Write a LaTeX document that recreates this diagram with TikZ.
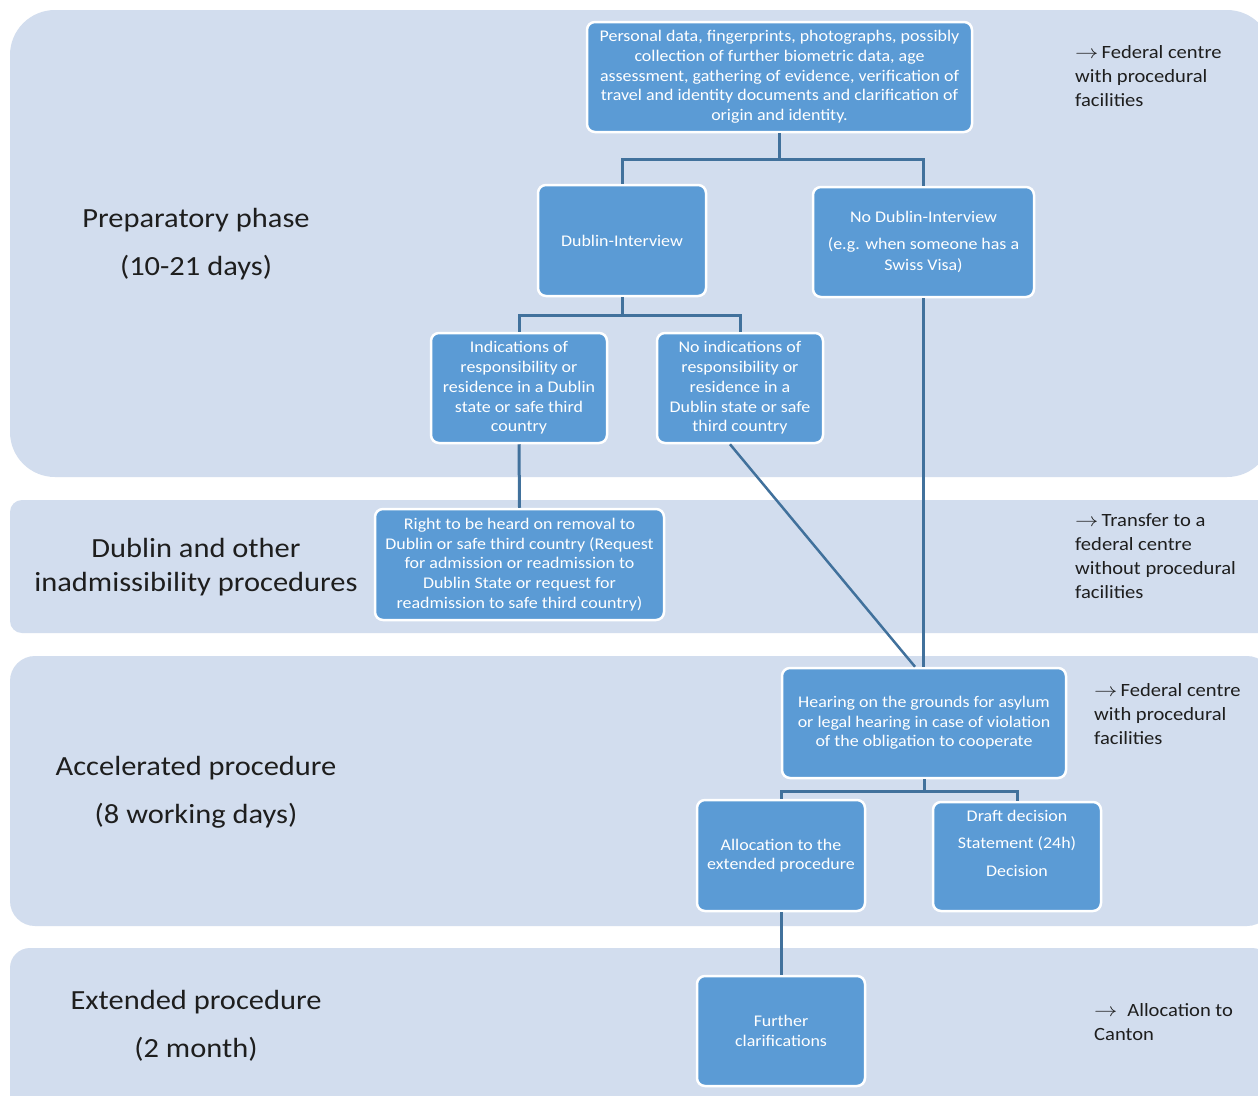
\documentclass[tikz,border=0pt]{standalone}
\usepackage{fontspec}
\usepackage{graphicx}
\setmainfont{Carlito}[FakeStretch=1.1]
\newfontfamily\wfont{Carlito}[FakeStretch=1.1]
\definecolor{bandc}{HTML}{D2DDEE}
\definecolor{boxc}{HTML}{5B9BD5}
\definecolor{linec}{HTML}{41719C}
\definecolor{txtc}{HTML}{1E1E1E}
\newcommand{\myarr}{\scalebox{1.35}[1.1]{$\rightarrow$}}
\tikzset{
  band/.style={fill=bandc, draw=none},
  stagebox/.style={draw=white, line width=2.5pt, fill=boxc, rounded corners=8pt, inner sep=0pt, text=white, align=center, font=\wfont\fontsize{16.3}{19.7}\selectfont},
  btext/.style={inner sep=0pt, text=white, align=center, font=\wfont\fontsize{16.3}{19.7}\selectfont},
  conn/.style={draw=linec, line width=3pt},
  phase/.style={inner sep=0pt, text=txtc, align=center, font=\fontsize{27.7}{34}\selectfont},
  note/.style={inner sep=0pt, text=txtc, align=left, anchor=north west, font=\fontsize{18.7}{24.3}\selectfont}
}
\begin{document}
\begin{tikzpicture}[x=1pt,y=-1pt]
\useasboundingbox (0,0) rectangle (1258,1095);
\fill[white] (0,0) rectangle (1258,1095);
\clip (0,0) rectangle (1258,1095);
% bands
\fill[band, rounded corners=45pt] (10,10) rectangle (1272,477);
\fill[band, rounded corners=12pt] (10,500) rectangle (1272,633);
\fill[band, rounded corners=25pt] (10,656) rectangle (1272,926);
\fill[band, rounded corners=20pt] (10,948) rectangle (1272,1120);
% phase labels
\node[phase] (p1) at (196,244) {Preparatory phase\\[14pt](10-21 days)};
\node[phase] (p2) at (196,567.5) {Dublin and other\\inadmissibility procedures};
\node[phase] (p3) at (196,792.5) {Accelerated procedure\\[14pt](8 working days)};
\node[phase] (p4) at (196,1025.5) {Extended procedure\\[14pt](2 month)};
% notes
\node[note] (n1) at (1075,45) {\myarr\,Federal centre\\with procedural\\facilities};
\node[note] (n2) at (1075,513) {\myarr\,Transfer to a\\federal centre\\without procedural\\facilities};
\node[note] (n3) at (1094,683) {\myarr\,Federal centre\\with procedural\\facilities};
\node[note] (n4) at (1094,1003) {\myarr\; Allocation to\\Canton};
% boxes
\node[stagebox, minimum width=385pt, minimum height=110pt] (top) at (779.5,77) {Personal data, fingerprints, photographs, possibly\\collection of further biometric data, age\\assessment, gathering of evidence, verification of\\travel and identity documents and clarification of\\origin and identity.};
\node[stagebox, minimum width=168pt, minimum height=111pt] (dub) at (622,240.5) {Dublin-Interview};
\node[stagebox, minimum width=221pt, minimum height=110pt] (nodub) at (923.5,242) {No Dublin-Interview\\[7pt](e.g. when someone has a\\[1pt]Swiss Visa)};
\node[stagebox, minimum width=176pt, minimum height=110pt] (ind) at (519,388) {Indications of\\responsibility or\\residence in a Dublin\\state or safe third\\country};
\node[stagebox, minimum width=166pt, minimum height=110pt] (noind) at (740,388) {No indications of\\responsibility or\\residence in a\\Dublin state or safe\\third country};
\node[stagebox, minimum width=289pt, minimum height=111pt] (right) at (519.5,564.5) {Right to be heard on removal to\\Dublin or safe third country (Request\\for admission or readmission to\\Dublin State or request for\\readmission to safe third country)};
\node[stagebox, minimum width=284pt, minimum height=110pt] (hear) at (924,723) {Hearing on the grounds for asylum\\or legal hearing in case of violation\\of the obligation to cooperate};
\node[stagebox, minimum width=168pt, minimum height=111pt] (alloc) at (781,855.5) {Allocation to the\\extended procedure};
\node[stagebox, minimum width=168pt, minimum height=109pt] (draft) at (1017,856.5) {};
\node[btext] (draftT) at (1017,843.5) {Draft decision\\[7.8pt]Statement (24h)\\[8.3pt]Decision};
\node[stagebox, minimum width=168pt, minimum height=110pt] (further) at (781,1031) {Further\\clarifications};
% connectors
\draw[conn] (top.south) -- ++(0,26) coordinate (j1) -| (dub.north);
\draw[conn] (j1) -| (nodub.north);
\draw[conn] (dub.south) -- ++(0,18) coordinate (j2) -| (ind.north);
\draw[conn] (j2) -| (noind.north);
\draw[conn] (ind.south) -- (right.north);
\draw[conn, line width=2.5pt] ([xshift=-10pt]noind.south) -- ([xshift=-9pt]hear.north);
\draw[conn] (nodub.south) -- (nodub.south |- hear.north);
\draw[conn] (hear.south) -- ++(0,12) coordinate (j3) -| (alloc.north);
\draw[conn] (j3) -| (draft.north);
\draw[conn] (alloc.south) -- (further.north);
\end{tikzpicture}
\end{document}
